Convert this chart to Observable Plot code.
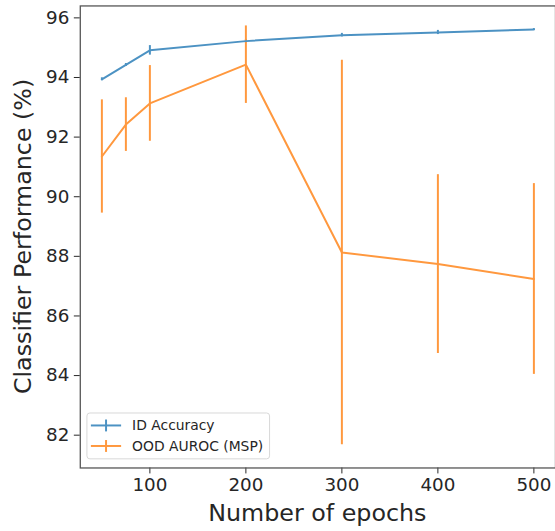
<!DOCTYPE html>
<html>
<head>
<meta charset="utf-8">
<script src="https://cdn.jsdelivr.net/npm/d3@7"></script>
<script src="https://cdn.jsdelivr.net/npm/@observablehq/plot@0.6"></script>
<style>
  html, body { margin: 0; padding: 0; background: #fff; overflow: hidden; }
  #chart { width: 555px; height: 531px; overflow: hidden; position: relative; }
</style>
</head>
<body>
<div id="chart"></div>
<script>
// ---- data ----
const epochs = [50, 75, 100, 200, 300, 400, 500];
const idAccuracy = [93.94, 94.42, 94.91, 95.22, 95.42, 95.51, 95.61];
const idError = [0.05, 0.05, 0.16, 0.06, 0.06, 0.07, 0.03];
const oodAuroc = [91.35, 92.42, 93.13, 94.43, 88.13, 87.74, 87.24];
const oodError = [1.9, 0.9, 1.27, 1.3, 6.45, 3.0, 3.2];
const seriesNames = ["ID Accuracy", "OOD AUROC (MSP)"];
const xTicks = [100, 200, 300, 400, 500];
const yTicks = [82, 84, 86, 88, 90, 92, 94, 96];
const xTitle = "Number of epochs";
const yTitle = "Classifier Performance (%)";

const colors = ["#4c92c3", "#ff983e"];

const rows = [];
epochs.forEach((e, i) => {
  rows.push({series: seriesNames[0], epoch: e, value: idAccuracy[i], err: idError[i]});
});
epochs.forEach((e, i) => {
  rows.push({series: seriesNames[1], epoch: e, value: oodAuroc[i], err: oodError[i]});
});

const plot = Plot.plot({
  width: 560,
  height: 531,
  marginLeft: 80.5,
  marginRight: 0,
  marginTop: 5.5,
  marginBottom: 59.3,
  style: {fontFamily: "DejaVu Sans", fontSize: "18.5px", color: "#262626", background: "#fff"},
  x: {domain: [27.5, 522.5], ticks: xTicks, tickSize: 6, tickPadding: 4, label: null},
  y: {domain: [80.9, 96.4], ticks: yTicks, tickSize: 6, tickPadding: 5, label: null},
  color: {domain: seriesNames, range: colors},
  marks: [
    Plot.ruleX(rows, {x: "epoch", y1: d => d.value - d.err, y2: d => d.value + d.err, stroke: "series", strokeWidth: 2}),
    Plot.line(rows, {x: "epoch", y: "value", z: "series", stroke: "series", strokeWidth: 2}),
    Plot.frame({stroke: "#555", strokeWidth: 1.3})
  ]
});

document.getElementById("chart").appendChild(plot);

const svg = d3.select(plot);
const xs = plot.scale("x"), ys = plot.scale("y");
const xMid = (xs.range[0] + xs.range[1]) / 2;
const yMid = (ys.range[0] + ys.range[1]) / 2;

svg.append("text")
  .attr("x", xMid).attr("y", 525.5)
  .attr("text-anchor", "middle")
  .attr("font-size", "24px").attr("fill", "#262626")
  .text(xTitle);

svg.append("text")
  .attr("transform", `translate(31.5,${yMid}) rotate(-90)`)
  .attr("text-anchor", "middle")
  .attr("font-size", "24px").attr("fill", "#262626")
  .text(yTitle);

// legend
const lg = svg.append("g").attr("transform", "translate(87.7,416.7)");
lg.append("rect").attr("width", 184.3).attr("height", 46.3).attr("rx", 3)
  .attr("fill", "#fff").attr("fill-opacity", 0.8).attr("stroke", "#d8d8d8");
seriesNames.forEach((name, i) => {
  const cy = 12.6 + i * 20.7;
  lg.append("line").attr("x1", 4).attr("x2", 34.5).attr("y1", cy).attr("y2", cy)
    .attr("stroke", colors[i]).attr("stroke-width", 2);
  lg.append("line").attr("x1", 19.3).attr("x2", 19.3).attr("y1", cy - 6).attr("y2", cy + 6)
    .attr("stroke", colors[i]).attr("stroke-width", 2);
  lg.append("text").attr("x", 45.6).attr("y", cy + 5)
    .attr("text-anchor", "start")
    .attr("font-size", "14px").attr("fill", "#262626").text(name);
});
</script>
</body>
</html>
